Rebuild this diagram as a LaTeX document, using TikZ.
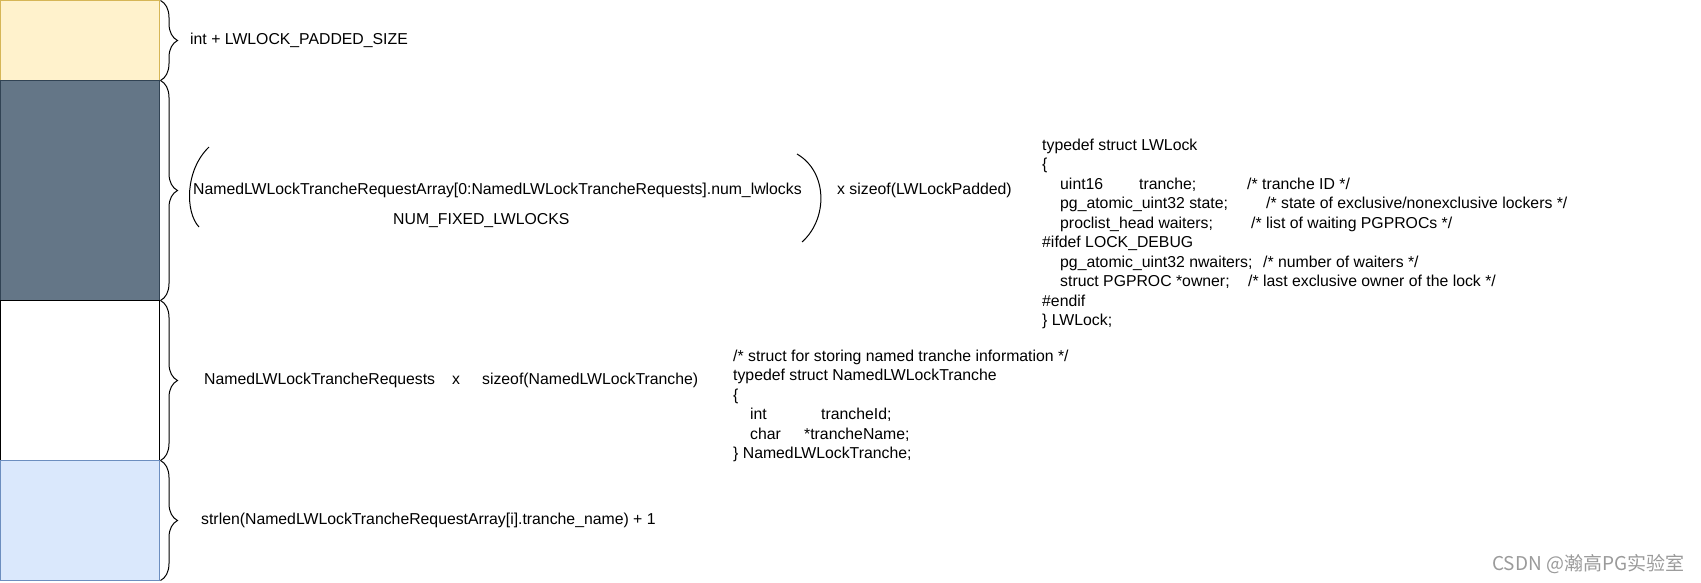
\documentclass[tikz,border=0pt]{standalone}
\usepackage{fontspec}
\setmainfont{Liberation Sans}
\newfontfamily\cjkfont{Noto Sans CJK SC}
\usetikzlibrary{positioning,decorations.pathreplacing}

\definecolor{hdrfill}{HTML}{FFF2CC}
\definecolor{hdrline}{HTML}{D6B656}
\definecolor{lockfill}{HTML}{647687}
\definecolor{lockline}{HTML}{314354}
\definecolor{namefill}{HTML}{DAE8FC}
\definecolor{nameline}{HTML}{6C8EBF}
\definecolor{markgray}{HTML}{9A9A9A}

% put text at a fixed offset from the start of a line
\newcommand{\colat}[2]{\rlap{\hspace*{#1pt}#2}}

\begin{document}
\begin{tikzpicture}[x=1pt,y=-1pt,
    membox/.style={draw,line width=1pt,minimum width=159pt,inner sep=0pt,outer sep=0pt},
    sizebrace/.style={decorate,decoration={brace,amplitude=17pt,raise=1pt},line width=1pt},
    lbl/.style={anchor=west,inner sep=0pt,font=\fontsize{15.8}{19}\selectfont},
    code/.style={anchor=west,inner sep=0pt,align=left,font=\fontsize{15.8}{19.5}\selectfont}]
  \useasboundingbox (0,0) rectangle (1701,582);

  % shared memory, top to bottom
  \node[membox,fill=hdrfill,draw=hdrline,minimum height=80pt,anchor=north west] (hdr) at (0.5,0.5) {};
  \node[membox,fill=lockfill,draw=lockline,minimum height=220pt] (locks) [below=0pt of hdr] {};
  \node[membox,fill=white,draw=black,minimum height=160pt] (tranches) [below=0pt of locks] {};
  \node[membox,fill=namefill,draw=nameline,minimum height=120pt] (names) [below=0pt of tranches] {};

  \draw[sizebrace] (hdr.north east) -- (hdr.south east);
  \draw[sizebrace] (locks.north east) -- (locks.south east);
  \draw[sizebrace] (tranches.north east) -- (tranches.south east);
  \draw[sizebrace] (names.north east) -- (names.south east);

  % sizes
  \node[lbl] (hdrlbl) at (190,40) {int + LWLOCK\_PADDED\_SIZE};
  \node[lbl] (lockcnt) at (193,190) {NamedLWLockTrancheRequestArray[0:NamedLWLockTrancheRequests].num\_lwlocks};
  \node[lbl] (fixedcnt) at (393,221) {NUM\_FIXED\_LWLOCKS};
  \node[lbl] (locksz) at (837,190) {x sizeof(LWLockPadded)};
  \draw[line width=1pt] (209,147) .. controls (185,170) and (185,212) .. (199,227);
  \draw[line width=1pt] (797,154) .. controls (828,172) and (828,219) .. (802,242);

  \node[lbl] (trlbl) at (204,380) {\colat{0}{NamedLWLockTrancheRequests}\colat{248}{x}\hspace*{278pt}sizeof(NamedLWLockTranche)};
  \node[lbl] (namelbl) at (201,520) {strlen(NamedLWLockTrancheRequestArray[i].tranche\_name) + 1};

  % struct definitions
  \node[code] (lockdef) at (1042,234) {typedef struct LWLock\\
    \{\\
    \colat{18}{uint16}\colat{97}{tranche;}\hspace*{205pt}/* tranche ID */\\
    \colat{18}{pg\_atomic\_uint32 state;}\hspace*{224pt}/* state of exclusive/nonexclusive lockers */\\
    \colat{18}{proclist\_head waiters;}\hspace*{209pt}/* list of waiting PGPROCs */\\
    \#ifdef LOCK\_DEBUG\\
    \colat{18}{pg\_atomic\_uint32 nwaiters;}\hspace*{221pt}/* number of waiters */\\
    \colat{18}{struct PGPROC *owner;}\hspace*{206pt}/* last exclusive owner of the lock */\\
    \#endif\\
    \} LWLock;};
  \node[code] (trdef) at (733,406) {/* struct for storing named tranche information */\\
    typedef struct NamedLWLockTranche\\
    \{\\
    \colat{17}{int}\hspace*{88pt}trancheId;\\
    \colat{17}{char}\hspace*{71pt}*trancheName;\\
    \} NamedLWLockTranche;};

  \node[anchor=west,inner sep=0pt,text=markgray,font=\cjkfont\fontsize{19}{22}\selectfont] (mark) at (1492,564) {CSDN @瀚高PG实验室};
\end{tikzpicture}
\end{document}
